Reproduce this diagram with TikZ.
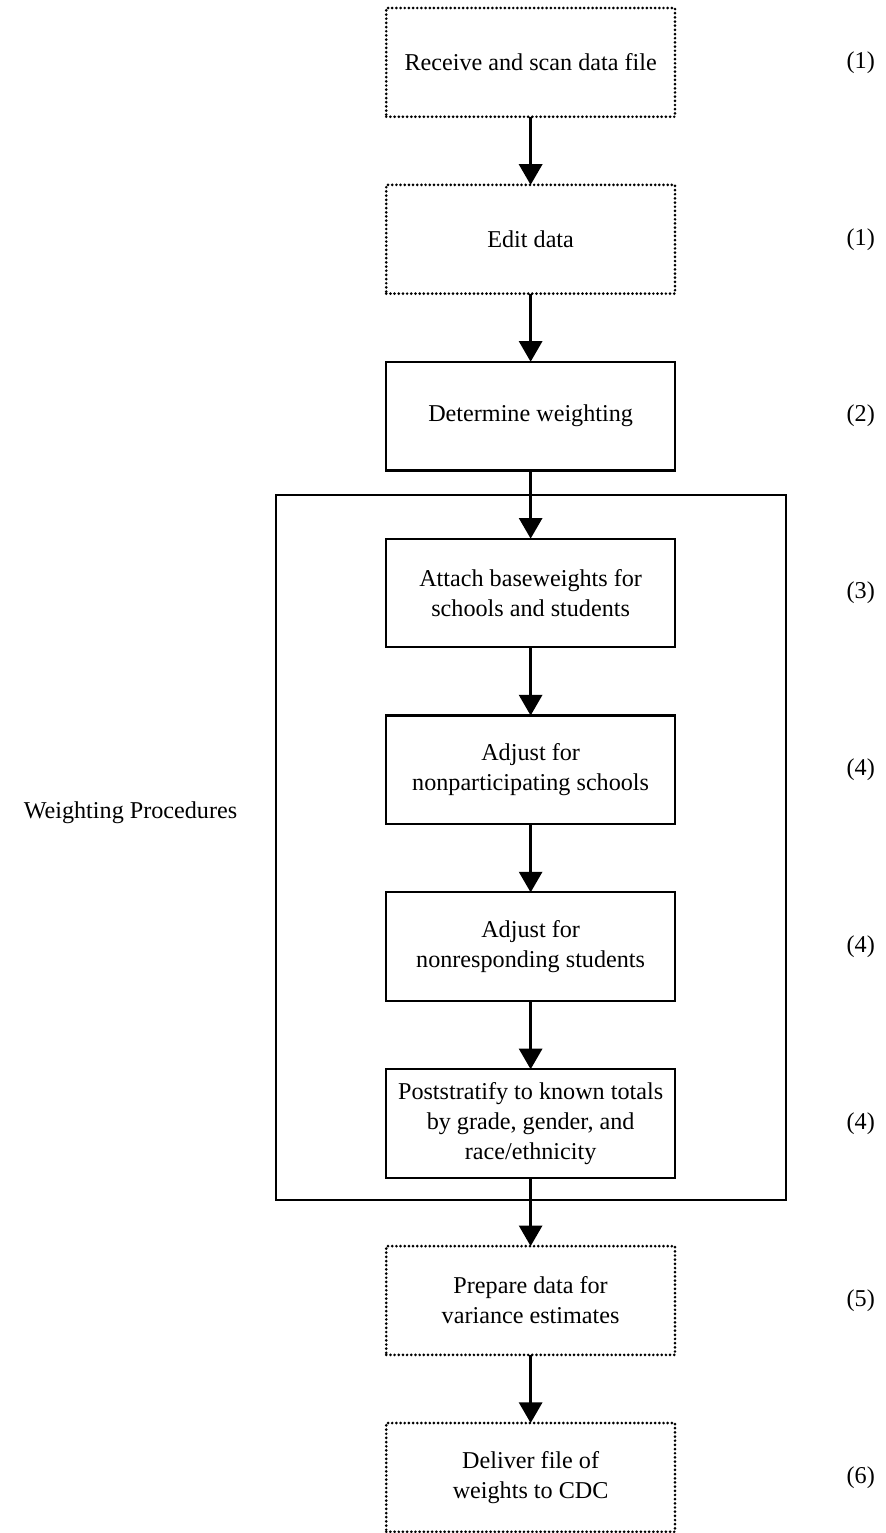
\documentclass[tikz,border=0pt]{standalone}
\usepackage{fontspec}
\setmainfont{Liberation Serif}
\usepackage{tikz}
\usetikzlibrary{arrows.meta,positioning,fit}
\tikzset{
stepsolid/.style={
  draw,
  line width=1pt,
  minimum width=4.62cm,
  minimum height=1.74cm,
  align=center,
  outer sep=0pt
  },
stepdotted/.style={
  stepsolid,
  line width=1.35pt,
  line cap=round,
  dash pattern=on 0pt off 1.9pt
  },
flow/.style={-{Triangle[width=0.37cm,length=0.33cm]}, line width=1.2pt},
tag/.style={inner sep=0pt}
}
\begin{document}
\begin{tikzpicture}[node distance=1.09cm, font=\fontsize{11}{13.6}\selectfont]
\useasboundingbox (0,0) rectangle (14.16,-24.528);
% the steps
\node[stepdotted] at (8.49,-0.998) (recv) {Receive and scan data file};
\node[stepdotted, below=of recv] (edit) {Edit data};
\node[stepsolid, below=of edit] (determ) {Determine weighting};
\node[stepsolid, below=of determ] (attach) {Attach baseweights for\\schools and students};
\node[stepsolid, below=of attach] (nonpart) {Adjust for\\nonparticipating schools};
\node[stepsolid, below=of nonpart] (nonresp) {Adjust for\\nonresponding students};
\node[stepsolid, below=of nonresp] (post) {Poststratify to known totals\\by grade, gender, and\\race/ethnicity};
\node[stepdotted, below=of post] (prep) {Prepare data for\\variance estimates};
\node[stepdotted, below=of prep] (deliv) {Deliver file of\\weights to CDC};

% the weighting frame
\path
  ([xshift=-1.76cm,yshift=0.70cm]attach.north west) coordinate (aux1)
  ([xshift=1.78cm,yshift=-0.35cm]post.south east) coordinate (aux2);
\node[draw,line width=1pt,inner sep=0pt,fit={(aux1) (aux2)}] (weightbox) {};
\node[tag, left=0.6cm of weightbox, yshift=0.56cm] (weightlbl) {Weighting Procedures};

% the step numbers
\foreach \Name/\Num in {recv/1, edit/1, determ/2, attach/3, nonpart/4, nonresp/4, post/4, prep/5, deliv/6}
  \node[tag, right=2.74cm of \Name] (num-\Name) {(\Num)};

%the arrows
\foreach \From/\To in {recv/edit, edit/determ, determ/attach, attach/nonpart, nonpart/nonresp, nonresp/post, post/prep, prep/deliv}
  \draw[flow] (\From) -- (\To);
\end{tikzpicture}
\end{document}
